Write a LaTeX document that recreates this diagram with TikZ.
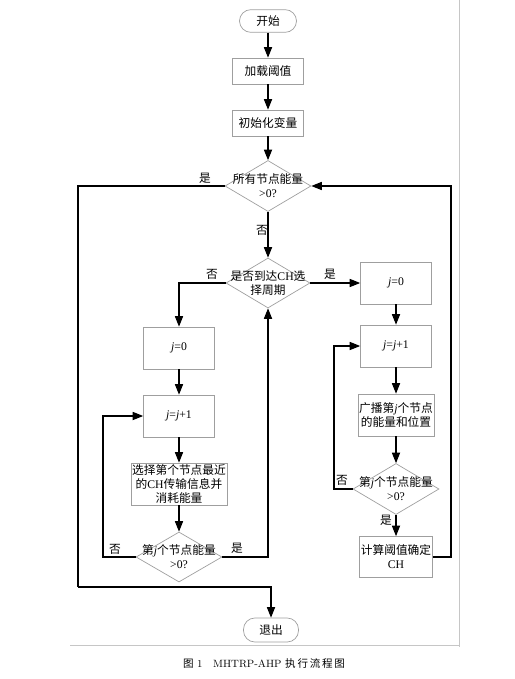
\documentclass[tikz,border=0pt]{standalone}
\usepackage{fontspec}
\usetikzlibrary{arrows.meta,positioning,shapes.geometric}
\newfontfamily\cjk{Noto Sans CJK SC}
\newfontfamily\tms{Liberation Serif}
\newcommand{\en}[1]{{\tms #1}}
\newcommand{\jj}{{\tms\itshape j}}

\begin{document}
\begin{tikzpicture}[
    x=0.03cm, y=0.03cm,
    box/.style={draw=gray!75, line width=0.6pt, minimum width=2.13cm,
                minimum height=1.26cm, align=center, inner sep=1pt,
                font=\cjk\fontsize{10}{12}\selectfont},
    term/.style={box, rounded corners=0.34cm, minimum height=0.68cm},
    dec/.style={draw=gray!75, line width=0.6pt, diamond, inner sep=0pt,
                minimum width=2.58cm, minimum height=1.53cm},
    txt/.style={align=center, font=\cjk\fontsize{10}{12}\selectfont},
    ln/.style={line width=0.9pt},
    arr/.style={ln, -{Triangle[length=9pt,width=7pt]}},
    lbl/.style={font=\cjk\fontsize{10}{12}\selectfont, inner sep=1pt},
]
  \useasboundingbox (0,0) rectangle (515,-679);

  % page frame
  \draw[gray!45, line width=0.6pt] (459,0) -- (459,-647);
  \draw[gray!45, line width=0.6pt] (70,-645) -- (459,-645);

  % main column
  \node[term,minimum width=1.71cm] (start) at (268,-21) {开始};
  \node[box,minimum height=0.78cm] (load) at (268,-71) {加载阈值};
  \node[box,minimum height=0.78cm] (init) at (268,-123) {初始化变量};
  \node[dec,label={[txt]center:{所有节点能量\\\en{>0?}}}] (d1) at (268,-186) {};
  \node[dec,minimum width=2.52cm,minimum height=1.5cm,
        label={[txt]center:{是否到达\en{CH}选\\择周期}}] (d2) at (268,-283) {};
  \node[term,minimum width=1.65cm,minimum height=0.72cm] (exit) at (271,-630) {退出};

  % right branch
  \node[box] (rz0) at (396,-283) {\jj\en{=0}};
  \node[box] (rinc) at (396,-346) {\jj\en{=}\jj\en{+1}};
  \node[box] (rbc) at (396,-415) {广播第\jj 个节点\\的能量和位置};
  \node[dec,label={[txt]center:{第\jj 个节点能量\\\en{>0?}}}] (d3) at (396,-489) {};
  \node[box,minimum height=1.23cm] (rcalc) at (396,-557) {计算阈值确定\\\en{CH}};

  % left branch
  \node[box] (lz0) at (179,-348) {\jj\en{=0}};
  \node[box] (linc) at (179,-416) {\jj\en{=}\jj\en{+1}};
  \node[box,minimum width=2.52cm] (lsel) at (179,-484)
    {选择第个节点最近\\的\en{CH}传输信息并\\消耗能量};
  \node[dec,minimum height=1.5cm,
        label={[txt]center:{第\jj 个节点能量\\\en{>0?}}}] (d4) at (179,-557) {};

  % corner points
  \coordinate (lc) at (78,-587);
  \coordinate (rr) at (451,-557);
  \coordinate (rl) at (334,-489);
  \coordinate (ll) at (103,-557);

  % connectors
  \draw[arr] (start) -- (load);
  \draw[arr] (load) -- (init);
  \draw[arr] (init) -- (d1);
  \draw[arr] (d1) -- (d2);
  \draw[ln] (d1.west) -| (lc);
  \draw[arr] (lc) -| (exit.north);
  \draw[arr] (d2.west) -| (lz0.north);
  \draw[arr] (d2.east) -- (rz0.west);
  \draw[arr] (rz0) -- (rinc);
  \draw[arr] (rinc) -- (rbc);
  \draw[arr] (rbc) -- (d3);
  \draw[arr] (d3) -- (rcalc);
  \draw[arr] (d3.west) -- (rl) |- (rinc.west);
  \draw[arr] (rcalc.east) -- (rr) |- (d1.east);
  \draw[arr] (lz0) -- (linc);
  \draw[arr] (linc) -- (lsel);
  \draw[arr] (lsel) -- (d4);
  \draw[arr] (d4.west) -- (ll) |- (linc.west);
  \draw[arr] (d4.east) -| (d2.south);

  % Labels
  \node[lbl] (y1) at (205,-178) {是};
  \node[lbl] (n1) at (262,-230) {否};
  \node[lbl] (n2) at (212,-274) {否};
  \node[lbl] (y2) at (330,-274) {是};
  \node[lbl] (n3) at (342,-480) {否};
  \node[lbl] (y3) at (386,-520) {是};
  \node[lbl] (n4) at (115,-549) {否};
  \node[lbl] (y4) at (237,-548) {是};

  % caption
  \node[font=\fontsize{9}{11}\selectfont] (cap) at (264,-663)
    {{\cjk 图}~1\quad MHTRP-AHP~{\cjk 执\,行\,流\,程\,图}};
\end{tikzpicture}
\end{document}
